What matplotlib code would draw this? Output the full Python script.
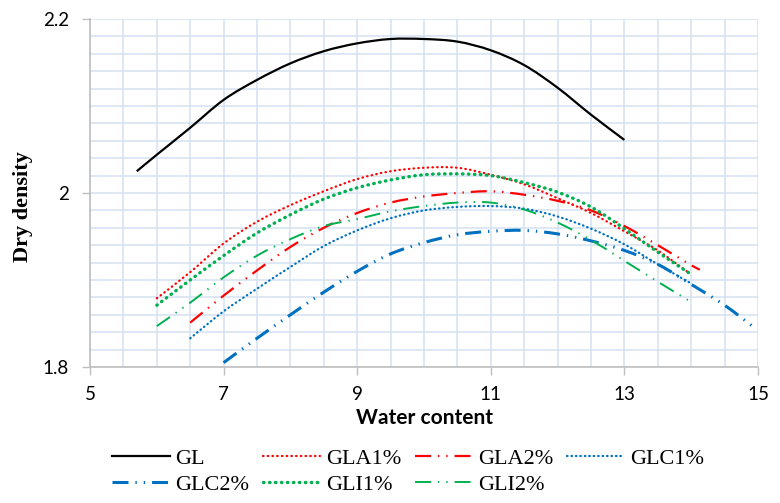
import numpy as np
import matplotlib
matplotlib.use("Agg")
import matplotlib.pyplot as plt
from matplotlib.path import Path
from matplotlib.patches import PathPatch

plt.rcParams['lines.scale_dashes'] = False

# water content (x) and dry density (y) per mix
gl_w = [5.7, 6.0, 6.5, 7.0, 7.5, 8.0, 8.5, 9.0, 9.5, 10.0, 10.5, 11.0, 11.5, 12.0, 12.5, 13.0]
gl_d = [2.025, 2.044, 2.075, 2.107, 2.130, 2.149, 2.163, 2.172, 2.177, 2.177, 2.174, 2.164, 2.147, 2.121, 2.090, 2.061]

gla1_w = [6.0, 6.5, 7.0, 7.5, 8.0, 8.5, 9.0, 9.5, 10.0, 10.5, 11.0, 11.5, 12.0, 12.5, 13.0, 13.5, 13.95]
gla1_d = [1.879, 1.909, 1.942, 1.967, 1.986, 2.002, 2.016, 2.025, 2.029, 2.029, 2.021, 2.010, 1.994, 1.977, 1.956, 1.934, 1.909]

gla2_w = [6.5, 7.0, 7.5, 8.0, 8.5, 9.0, 9.5, 10.0, 10.5, 11.0, 11.5, 12.0, 12.5, 13.0, 13.5, 14.0, 14.13]
gla2_d = [1.851, 1.882, 1.911, 1.938, 1.960, 1.977, 1.989, 1.996, 2.000, 2.002, 1.998, 1.991, 1.980, 1.962, 1.940, 1.917, 1.912]

glc1_w = [6.5, 7.0, 7.5, 8.0, 8.5, 9.0, 9.5, 10.0, 10.5, 11.0, 11.5, 12.0, 12.5, 13.0, 13.5, 14.0]
glc1_d = [1.833, 1.864, 1.890, 1.915, 1.939, 1.957, 1.971, 1.980, 1.984, 1.985, 1.982, 1.973, 1.959, 1.941, 1.918, 1.896]

glc2_w = [7.0, 7.5, 8.0, 8.5, 9.0, 9.5, 10.0, 10.5, 11.0, 11.5, 12.0, 12.5, 13.0, 13.5, 14.0, 14.5, 14.95]
glc2_d = [1.805, 1.833, 1.860, 1.886, 1.910, 1.930, 1.943, 1.952, 1.956, 1.957, 1.953, 1.945, 1.934, 1.918, 1.895, 1.871, 1.845]

gli1_w = [6.0, 6.5, 7.0, 7.5, 8.0, 8.5, 9.0, 9.5, 10.0, 10.5, 11.0, 11.5, 12.0, 12.5, 13.0, 13.5, 13.97]
gli1_d = [1.871, 1.900, 1.928, 1.954, 1.975, 1.993, 2.006, 2.015, 2.021, 2.022, 2.020, 2.012, 2.001, 1.984, 1.959, 1.932, 1.908]

gli2_w = [6.0, 6.5, 7.0, 7.5, 8.0, 8.5, 9.0, 9.5, 10.0, 10.5, 11.0, 11.5, 12.0, 12.5, 13.0, 13.5, 13.95]
gli2_d = [1.847, 1.874, 1.903, 1.928, 1.947, 1.962, 1.970, 1.979, 1.985, 1.989, 1.989, 1.981, 1.966, 1.946, 1.922, 1.898, 1.877]

red = '#FF0000'
blue = '#0070C0'
green = '#00B050'
dashdotdot = (0, (11.5, 5, 1, 5, 1, 5))


def smooth_path(xs, ys):
    # smoothed line like the spreadsheet draws it: cubic Bezier through every point
    p = np.column_stack([xs, ys])
    verts = [p[0]]
    codes = [Path.MOVETO]
    n = len(p)
    for i in range(n - 1):
        p0 = p[max(i - 1, 0)]
        p3 = p[min(i + 2, n - 1)]
        c1 = p[i] + (p[i + 1] - p0) / 6
        c2 = p[i + 1] - (p3 - p[i]) / 6
        verts += [c1, c2, p[i + 1]]
        codes += [Path.CURVE4] * 3
    return Path(verts, codes)


def curve(ax, xs, ys, label, **kw):
    ax.add_patch(PathPatch(smooth_path(xs, ys), fill=False,
                           edgecolor=kw['color'], lw=kw['lw'],
                           linestyle=kw.get('linestyle', '-'),
                           capstyle=kw.get('dash_capstyle', 'butt')))
    ax.plot([], [], label=label, **kw)


fig = plt.figure(figsize=(7.8, 5.03), dpi=100)
ax = fig.add_axes([90/780, 1-367/503, 668/780, 348/503])

curve(ax, gl_w, gl_d, 'GL', color='black', lw=1.6)
curve(ax, gla1_w, gla1_d, 'GLA1%', color=red, lw=1.6, linestyle=(0, (0.4, 3.0)),
      dash_capstyle='round')
curve(ax, gla2_w, gla2_d, 'GLA2%', color=red, lw=1.6, linestyle=dashdotdot)
curve(ax, glc1_w, glc1_d, 'GLC1%', color=blue, lw=1.6, linestyle=(0, (0.4, 2.8)),
      dash_capstyle='round')
curve(ax, glc2_w, glc2_d, 'GLC2%', color=blue, lw=2.2, linestyle=dashdotdot)
curve(ax, gli1_w, gli1_d, 'GLI1%', color=green, lw=2.4, linestyle=(0, (0.4, 3.9)),
      dash_capstyle='round')
curve(ax, gli2_w, gli2_d, 'GLI2%', color=green, lw=1.4, linestyle=dashdotdot)

ax.set_xlim(5, 15)
ax.set_ylim(1.8, 2.2)
ax.set_xticks(np.arange(5, 16, 2))
ax.set_yticks([1.8, 2.0, 2.2])
ax.set_yticklabels(['1.8', '2', '2.2'])
ax.set_xticks(np.arange(5, 15.01, 0.5), minor=True)
ax.set_yticks(np.arange(1.8, 2.2001, 0.02), minor=True)
ax.tick_params(which='minor', length=0)
ax.tick_params(which='major', length=6, width=1, color='#BFBFBF', labelsize=13.5)
ax.tick_params(axis='y', pad=9)
ax.tick_params(axis='x', pad=8)
for lab in ax.get_xticklabels() + ax.get_yticklabels():
    lab.set_family('Lato')
ax.grid(which='both', color='#D3E1F1', lw=1.1)
ax.set_axisbelow(True)
for s in ['top', 'right']:
    ax.spines[s].set_visible(False)
for s in ['left', 'bottom']:
    ax.spines[s].set_color('#BFBFBF')
    ax.spines[s].set_linewidth(1.2)

ax.set_xlabel('Water content', family='Lato', fontweight='bold', fontsize=15, labelpad=3)
ax.set_ylabel('Dry density', family='Liberation Serif', fontweight='bold', fontsize=16)
ax.yaxis.set_label_coords(-0.085, 0.46)

h, l = ax.get_legend_handles_labels()
order = [0, 4, 1, 5, 2, 6, 3]
fig.legend([h[i] for i in order], [l[i] for i in order], ncol=4, frameon=False,
           loc='upper left', bbox_to_anchor=(112/780, 1-448/503),
           prop={'family': 'Liberation Serif', 'size': 16},
           handlelength=2.6, handletextpad=0.25, columnspacing=0.6,
           labelspacing=0.25, borderpad=0, borderaxespad=0)

fig.savefig('out.png', dpi=100)
